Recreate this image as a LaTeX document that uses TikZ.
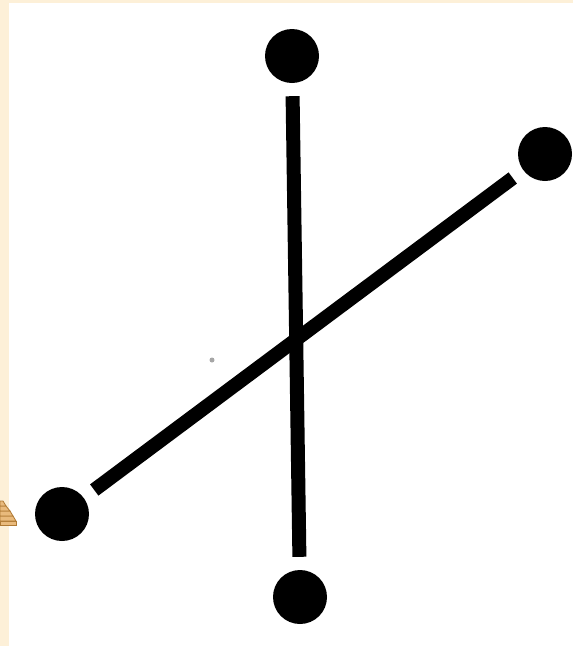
\documentclass[tikz,border=0pt]{standalone}
\usetikzlibrary{calc}
\definecolor{scanbeige}{HTML}{FDF0D8}
\definecolor{pyrfill}{HTML}{E9BA7C}
\definecolor{pyredge}{HTML}{B07A34}
\begin{document}
\begin{tikzpicture}[x=1pt,y=-1pt,
  dot/.style={circle,fill=black,draw=none,inner sep=0pt,minimum size=54pt},
  bar/.style={line width=14pt,black,line cap=butt,shorten <=13pt,shorten >=13pt}]
\useasboundingbox (0,0) rectangle (573,646);
\fill[white] (0,0) rectangle (573,646);
\fill[scanbeige] (0,0) rectangle (573,3);
\fill[scanbeige] (0,0) rectangle (8.5,646);
% small pyramid icon at the left edge
\begin{scope}[pyredge,line width=0.8pt]
  \filldraw[fill=pyrfill] (0,521) -- (16,521) -- (16,525) -- (0,525) -- cycle;
  \filldraw[fill=pyrfill] (0,516) -- (13,516) -- (16,521) -- (0,521) -- cycle;
  \filldraw[fill=pyrfill] (0,511) -- (10,511) -- (13,516) -- (0,516) -- cycle;
  \filldraw[fill=pyrfill] (0,506) -- (6,506) -- (10,511) -- (0,511) -- cycle;
  \filldraw[fill=pyrfill] (0,501) -- (3,501) -- (6,506) -- (0,506) -- cycle;
\end{scope}
% speck
\fill[gray!70] (212,360) circle (2.5);
% dots
\node[dot] (t) at (292,56) {};
\node[dot] (b) at (300,597) {};
\node[dot] (r) at (545,154) {};
\node[dot] (l) at (62,514) {};
% bars
\draw[bar] (t) -- (b);
\draw[bar] (l) -- (r);
\end{tikzpicture}
\end{document}
